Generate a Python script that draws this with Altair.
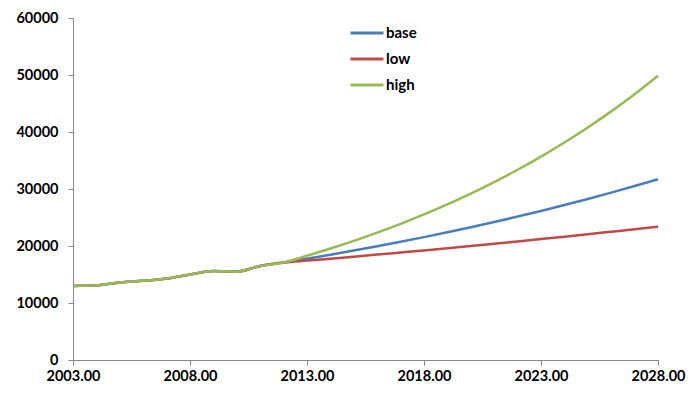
import altair as alt
import pandas as pd

years = list(range(2003, 2029))
hist = [13000, 13100, 13600, 13900, 14300, 15000, 15600, 15500, 16500, 17100]
base_proj = [17770, 18470, 19200, 19960, 20740, 21560, 22410, 23290, 24210, 25160,
             26150, 27180, 28250, 29360, 30520, 31720]
low_proj = [17440, 17780, 18130, 18490, 18860, 19230, 19610, 20000, 20400, 20800,
            21210, 21630, 22060, 22500, 22940, 23400]
high_proj = [18280, 19550, 20900, 22350, 23890, 25550, 27310, 29200, 31220, 33380,
             35690, 38160, 40800, 43620, 46640, 49870]

series = ["base", "low", "high"]
colors = ["#4A7EBB", "#BE4B48", "#98B954"]

rows = []
for name, proj in zip(series, [base_proj, low_proj, high_proj]):
    vals = hist + proj
    for y, v in zip(years, vals):
        rows.append({"year": y, "value": v, "series": name})
df = pd.DataFrame(rows)

FONT = "Lato"

chart = alt.Chart(df).mark_line(strokeWidth=2.5, interpolate="monotone").encode(
    x=alt.X("year:Q",
            scale=alt.Scale(domain=[2003, 2028], nice=False, zero=False),
            axis=alt.Axis(values=[2003, 2008, 2013, 2018, 2023, 2028], format=".2f",
                          title=None, grid=False, domainColor="#888888", tickColor="#888888",
                          tickSize=5, labelFont=FONT, labelFontWeight="bold", labelFontSize=14.5,
                          labelColor="black", labelPadding=4, labelFlush=False)),
    y=alt.Y("value:Q",
            scale=alt.Scale(domain=[0, 60000], nice=False),
            axis=alt.Axis(values=[0, 10000, 20000, 30000, 40000, 50000, 60000], format="d",
                          title=None, grid=False, domainColor="#888888", tickColor="#888888",
                          tickSize=5, labelFont=FONT, labelFontWeight="bold", labelFontSize=14.5,
                          labelColor="black", labelPadding=10)),
    color=alt.Color("series:N",
                    scale=alt.Scale(domain=series, range=colors),
                    sort=series,
                    legend=alt.Legend(orient="none", legendX=276, legendY=-3, title=None,
                                      symbolType="stroke", symbolSize=1089,
                                      symbolStrokeWidth=3, labelFont=FONT,
                                      labelFontWeight="bold", labelFontSize=15,
                                      labelColor="black", rowPadding=-1, labelOffset=1)),
    order=alt.Order("series:N"),
).properties(
    width=585, height=342,
    autosize=alt.AutoSizeParams(type="none"),
    padding={"left": 65, "top": 10, "right": 28, "bottom": 28},
).configure_view(stroke=None)

chart.save("out.html", embed_options={"renderer": "svg", "actions": False})
